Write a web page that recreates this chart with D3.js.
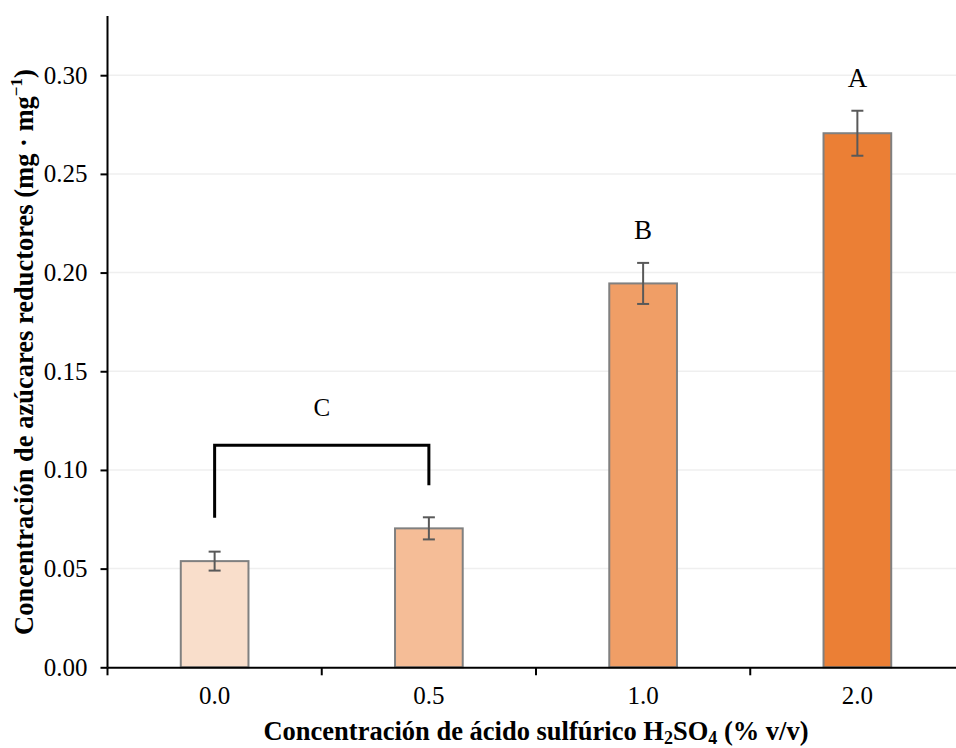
<!DOCTYPE html>
<html>
<head>
<meta charset="utf-8">
<script src="https://cdn.jsdelivr.net/npm/d3@7"></script>
<style>
  html, body { margin: 0; padding: 0; background: #fff; }
  svg { display: block; font-family: "Liberation Serif", "Times New Roman", serif; }
</style>
</head>
<body>
<svg id="chart" width="956" height="748"></svg>
<script>
// Sulfuric acid concentration (% v/v) and mean reducing sugars (mg·mg⁻¹)
const categories = ["0.0", "0.5", "1.0", "2.0"];
const means      = [0.0538, 0.0704, 0.1945, 0.2706];
const errors     = [0.0048, 0.0056, 0.0104, 0.0114];
const letters    = ["", "", "B", "A"];
const fills      = ["#F9DECB", "#F5BD97", "#F09E66", "#EB7F35"];
const yTicks     = [0, 0.05, 0.10, 0.15, 0.20, 0.25, 0.30];
// categories sharing group "C" (joined by a bracket)
const groupC     = ["0.0", "0.5"];

const svg = d3.select("#chart");
const plotL = 107.5, plotR = 964.5, plotT = 16, plotB = 667.3;

const x = d3.scaleBand().domain(categories).range([plotL, plotR]).padding(0);
const y = d3.scaleLinear().domain([0, 0.33]).range([plotB, plotT]);
const barW = x.bandwidth() * 0.316;
const cx = c => x(c) + x.bandwidth() / 2;

// horizontal gridlines
svg.append("g")
  .selectAll("line")
  .data(yTicks.filter(d => d > 0))
  .join("line")
  .attr("x1", plotL).attr("x2", plotR)
  .attr("y1", d => y(d)).attr("y2", d => y(d))
  .attr("stroke", "#EFEFEF").attr("stroke-width", 1.5);

// bars
svg.append("g")
  .selectAll("rect")
  .data(categories)
  .join("rect")
  .attr("x", c => cx(c) - barW / 2)
  .attr("width", barW)
  .attr("y", (c, i) => y(means[i]))
  .attr("height", (c, i) => y(0) - y(means[i]))
  .attr("fill", (c, i) => fills[i])
  .attr("stroke", "#808080")
  .attr("stroke-width", 2);

// error bars
const eb = svg.append("g").attr("stroke", "#595959").attr("stroke-width", 2);
categories.forEach((c, i) => {
  const hi = y(means[i] + errors[i]), lo = y(means[i] - errors[i]), xc = cx(c);
  eb.append("line").attr("x1", xc).attr("x2", xc).attr("y1", hi).attr("y2", lo);
  eb.append("line").attr("x1", xc - 6).attr("x2", xc + 6).attr("y1", hi).attr("y2", hi);
  eb.append("line").attr("x1", xc - 6).attr("x2", xc + 6).attr("y1", lo).attr("y2", lo);
});

// significance letters above single bars
svg.append("g")
  .selectAll("text")
  .data(categories.filter((c, i) => letters[i]))
  .join("text")
  .attr("x", c => cx(c))
  .attr("y", c => { const i = categories.indexOf(c); return y(means[i] + errors[i]) - 24; })
  .attr("text-anchor", "middle")
  .attr("font-size", 27)
  .attr("fill", "#000")
  .text(c => letters[categories.indexOf(c)]);

// bracket for group C
{
  const i0 = categories.indexOf(groupC[0]), i1 = categories.indexOf(groupC[1]);
  const legEnds = [y(means[i0] + errors[i0]) - 34, y(means[i1] + errors[i1]) - 32];
  const barY = Math.min(...legEnds) - 40;
  const x0 = cx(groupC[0]), x1 = cx(groupC[1]);
  svg.append("path")
    .attr("d", `M${x0},${legEnds[0]}V${barY}H${x1}V${legEnds[1]}`)
    .attr("fill", "none").attr("stroke", "#000").attr("stroke-width", 3);
  svg.append("text")
    .attr("x", (x0 + x1) / 2).attr("y", barY - 29)
    .attr("text-anchor", "middle").attr("font-size", 25)
    .text("C");
}

// y axis
const yAxis = svg.append("g")
  .attr("transform", `translate(${plotL},0)`)
  .call(d3.axisLeft(y).tickValues(yTicks).tickFormat(d3.format(".2f"))
    .tickSize(7).tickPadding(13).tickSizeOuter(0));
yAxis.select(".domain").attr("stroke", "#000").attr("stroke-width", 2)
  .attr("d", `M0,${plotT}V${plotB}`);
yAxis.selectAll(".tick line").attr("stroke", "#000").attr("stroke-width", 2);
yAxis.selectAll(".tick text").attr("font-size", 25).attr("font-family", "Liberation Serif").attr("fill", "#000");

// x axis
const xAxis = svg.append("g")
  .attr("transform", `translate(0,${plotB})`)
  .call(d3.axisBottom(x).tickSize(0).tickPadding(19).tickSizeOuter(0));
xAxis.select(".domain").attr("stroke", "#000").attr("stroke-width", 2);
xAxis.selectAll(".tick text").attr("font-size", 25).attr("font-family", "Liberation Serif").attr("fill", "#000");
// category boundary ticks
xAxis.append("g")
  .selectAll("line")
  .data(categories)
  .join("line")
  .attr("x1", c => x(c)).attr("x2", c => x(c))
  .attr("y1", 0).attr("y2", 8)
  .attr("stroke", "#000").attr("stroke-width", 2);

// axis titles
const xt = svg.append("text")
  .attr("x", (plotL + plotR) / 2).attr("y", 740)
  .attr("text-anchor", "middle").attr("font-size", 26.5).attr("font-weight", "bold");
xt.append("tspan").text("Concentración de ácido sulfúrico H");
xt.append("tspan").attr("font-size", 18).attr("dy", 4).text("2");
xt.append("tspan").attr("dy", -4).text("SO");
xt.append("tspan").attr("font-size", 18).attr("dy", 4).text("4");
xt.append("tspan").attr("dy", -4).text(" (% v/v)");

const yt = svg.append("text")
  .attr("transform", `translate(33,352) rotate(-90)`)
  .attr("text-anchor", "middle").attr("font-size", 26.5).attr("font-weight", "bold");
yt.append("tspan").text("Concentración de azúcares reductores (mg · mg");
yt.append("tspan").attr("font-size", 17).attr("dy", -11).text("−1");
yt.append("tspan").attr("dy", 11).text(")");
</script>
</body>
</html>
